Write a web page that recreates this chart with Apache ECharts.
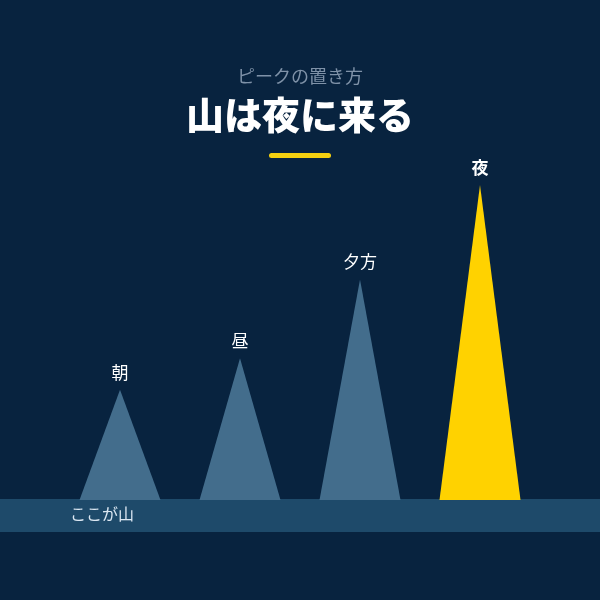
<!DOCTYPE html>
<html><head><meta charset="utf-8">
<script src="https://cdn.jsdelivr.net/npm/echarts@6/dist/echarts.min.js"></script>
<style>html,body{margin:0;padding:0;background:#08233f}#c{width:600px;height:600px}</style>
</head><body><div id="c"></div>
<script>
const categories = ['朝', '昼', '夕方', '夜'];
const values = [35, 45, 70, 100];
const highlight = '夜';
const subtitleText = 'ピークの置き方';
const titleText = '山は夜に来る';
const baseLabel = 'ここが山';

const chart = echarts.init(document.getElementById('c'));
const font = '"Noto Sans CJK JP", "Noto Sans", sans-serif';
chart.setOption({
  backgroundColor: '#08233f',
  title: [
    { text: subtitleText, left: 'center', top: 62, textStyle: { color: '#7f92a8', fontSize: 18, fontWeight: 'normal', fontFamily: font } },
    { text: titleText, left: 'center', top: 91, textStyle: { color: '#ffffff', fontSize: 38, fontWeight: 900, fontFamily: font } }
  ],
  grid: { left: 60, right: 60, top: 185, bottom: 100 },
  xAxis: { type: 'category', data: categories, show: false },
  yAxis: { type: 'value', min: 0, max: 100, show: false },
  graphic: [
    { type: 'rect', shape: { x: 269, y: 153, width: 62, height: 5, r: 2.5 }, style: { fill: '#f5d010' } },
    { type: 'rect', z: -1, shape: { x: 0, y: 499, width: 600, height: 33 }, style: { fill: '#1e4a6a' } },
    { type: 'text', left: 70, top: 506, style: { text: baseLabel, fill: '#dbe7f2', fontSize: 16, fontFamily: font } }
  ],
  series: [{
    type: 'pictorialBar',
    symbol: 'triangle',
    barWidth: 81,
    z: 2,
    data: values.map((v, i) => {
      const hi = categories[i] === highlight;
      return {
        value: v,
        itemStyle: { color: hi ? '#ffd200' : '#436d8c' },
        label: {
          show: true, position: 'top', distance: 9,
          formatter: categories[i],
          color: '#ffffff', fontSize: 17, fontFamily: font,
          fontWeight: hi ? 'bold' : 'normal'
        }
      };
    })
  }]
});
</script></body></html>
